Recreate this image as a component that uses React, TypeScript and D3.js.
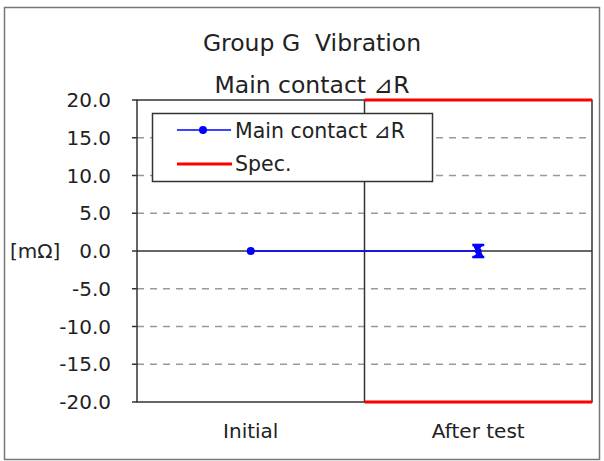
import { useMemo } from "react";
import * as d3 from "d3";

const categories = ["Initial", "After test"];
const mainValues = [0.0, 0.0];
const errLow = [0.0, -0.8];
const errHigh = [0.0, 0.8];
const specUpper = 20;
const specLower = -20;
const yTicks = [20, 15, 10, 5, 0, -5, -10, -15, -20];

const W = 604;
const H = 461;
const PLOT = { left: 137, right: 592, top: 100, bottom: 402 };
const FONT = "'DejaVu Sans', Verdana, sans-serif";

export default function App() {
  const x = useMemo(
    () => d3.scaleBand<string>().domain(categories).range([PLOT.left, PLOT.right]).padding(0),
    []
  );
  const y = useMemo(
    () => d3.scaleLinear().domain([-20, 20]).range([PLOT.bottom, PLOT.top]),
    []
  );
  const cx = (c: string) => (x(c) ?? 0) + x.bandwidth() / 2;

  const line = d3
    .line<number>()
    .x((_, i) => cx(categories[i]))
    .y((d) => y(d));

  const afterX = x(categories[1]) ?? 0;
  const dividerX = afterX;

  return (
    <svg
      width={W}
      height={H}
      style={{ position: "absolute", left: 0, top: 0, background: "#fff" }}
      fontFamily={FONT}
    >
      <rect x={4.5} y={7.5} width={595} height={452} fill="#fff" stroke="#777" strokeWidth={1.5} />

      <text x={312} y={51} textAnchor="middle" fontSize={23.5} fill="#222">
        {"Group G\u00a0\u00a0Vibration"}
      </text>
      <text x={312} y={93} textAnchor="middle" fontSize={23.5} fill="#222">
        Main contact ⊿R
      </text>

      {/* gridlines */}
      {yTicks
        .filter((t) => Math.abs(t) !== 20 && t !== 0)
        .map((t) => (
          <line
            key={t}
            x1={PLOT.left}
            x2={PLOT.right}
            y1={y(t)}
            y2={y(t)}
            stroke="#999"
            strokeWidth={1.5}
            strokeDasharray="7,6"
          />
        ))}
      <line x1={PLOT.left} x2={PLOT.right} y1={y(0)} y2={y(0)} stroke="#333" strokeWidth={1.5} />

      {/* plot frame */}
      <rect
        x={PLOT.left}
        y={PLOT.top}
        width={PLOT.right - PLOT.left}
        height={PLOT.bottom - PLOT.top}
        fill="none"
        stroke="#333"
        strokeWidth={1.5}
      />
      <line x1={dividerX} x2={dividerX} y1={PLOT.top} y2={PLOT.bottom} stroke="#333" strokeWidth={1.5} />

      {/* spec */}
      {[specUpper, specLower].map((s) => (
        <line
          key={s}
          x1={afterX}
          x2={afterX + x.bandwidth()}
          y1={y(s)}
          y2={y(s)}
          stroke="#f00"
          strokeWidth={3}
        />
      ))}

      {/* y ticks */}
      {yTicks.map((t) => (
        <g key={t}>
          <line x1={PLOT.left - 5} x2={PLOT.left} y1={y(t)} y2={y(t)} stroke="#333" strokeWidth={1.5} />
          <text x={111} y={y(t)} dy="0.36em" textAnchor="end" fontSize={20} fill="#222">
            {t.toFixed(1)}
          </text>
        </g>
      ))}
      <text x={10} y={y(0)} dy="0.36em" fontSize={20} fill="#222">
        [mΩ]
      </text>

      {/* categories */}
      {categories.map((c) => (
        <text key={c} x={cx(c)} y={438} textAnchor="middle" fontSize={20} fill="#222">
          {c}
        </text>
      ))}

      {/* data */}
      <path d={line(mainValues) ?? ""} fill="none" stroke="#00f" strokeWidth={1.5} />
      {categories.map((c, i) => {
        const lo = mainValues[i] + errLow[i];
        const hi = mainValues[i] + errHigh[i];
        const px = cx(c);
        const py = y(mainValues[i]);
        return (
          <g key={c}>
            {hi !== lo && (
              <g stroke="#00f" fill="#00f">
                <line x1={px} x2={px} y1={y(lo)} y2={y(hi)} strokeWidth={2.5} />
                <line x1={px - 6} x2={px + 6} y1={y(lo)} y2={y(lo)} strokeWidth={2.5} />
                <line x1={px - 6} x2={px + 6} y1={y(hi)} y2={y(hi)} strokeWidth={2.5} />
                <path
                  d={`M${px - 5},${y(lo)}L${px + 5},${y(lo)}L${px + 2},${py}Z M${px - 5},${y(hi)}L${px + 5},${y(hi)}L${px - 2},${py}Z`}
                  strokeWidth={1}
                />
                <circle cx={px} cy={py} r={3} />
              </g>
            )}
            {hi === lo && <circle cx={px} cy={py} r={4} fill="#00f" />}
          </g>
        );
      })}

      {/* legend */}
      <rect x={152.5} y={113.5} width={280} height={68} fill="#fff" stroke="#333" strokeWidth={1.5} />
      <line x1={177} x2={231} y1={130} y2={130} stroke="#00f" strokeWidth={1.5} />
      <circle cx={203} cy={130} r={4} fill="#00f" />
      <text x={235} y={131} dy="0.36em" fontSize={20.5} fill="#222">
        Main contact ⊿R
      </text>
      <line x1={177} x2={232} y1={164} y2={164} stroke="#f00" strokeWidth={3} />
      <text x={235} y={164} dy="0.36em" fontSize={20.5} fill="#222">
        Spec.
      </text>
    </svg>
  );
}
